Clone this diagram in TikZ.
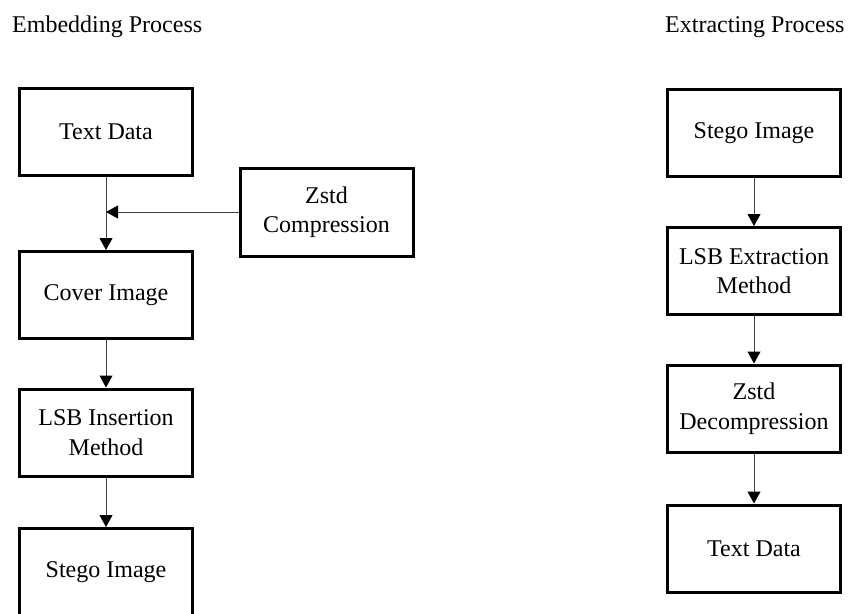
\documentclass[tikz,border=0pt]{standalone}
\usepackage{fontspec}
\setmainfont{Liberation Serif}
\usetikzlibrary{arrows.meta}
\begin{document}
\begin{tikzpicture}[x=1pt,y=-1pt,
  every node/.style={font=\fontsize{24}{29.5}\selectfont},
  procbox/.style={draw=black, line width=3pt, rectangle, minimum width=173pt, minimum height=87pt, inner sep=0pt, align=center},
  title/.style={anchor=base west, inner sep=0pt},
  arr/.style={draw=black!75, line width=1pt, -{Triangle[length=12pt,width=13pt,color=black]}}]
\useasboundingbox (0,0) rectangle (848,613);
\fill[white] (0,0) rectangle (848,613);
% titles
\node[title] (t1) at (12,32) {Embedding Process};
\node[title] (t2) at (665,32) {Extracting Process};
% left column
\node[procbox] (td) at (106,132) {Text Data};
\node[procbox, minimum height=88pt] (comp) at (326.5,212) {Zstd\\Compression};
\node[procbox] (cov) at (106,295) {Cover Image};
\node[procbox] (lsbi) at (106,432.5) {LSB Insertion\\Method};
\node[procbox] (sl) at (106,572) {Stego Image};
\coordinate (j) at (td.south |- comp.west);
\draw[arr] (td.south) -- (cov.north);
\draw[arr] (comp.west) -- (j);
\draw[arr] (cov.south) -- (lsbi.north);
\draw[arr] (lsbi.south) -- (sl.north);
% right column
\node[procbox] (sr) at (754,133) {Stego Image};
\node[procbox] (lsbe) at (754,271) {LSB Extraction\\Method};
\node[procbox] (zd) at (754,408.5) {Zstd\\Decompression};
\node[procbox] (tr) at (754,548.5) {Text Data};
\draw[arr] (sr.south) -- (lsbe.north);
\draw[arr] (lsbe.south) -- (zd.north);
\draw[arr] (zd.south) -- (tr.north);
\end{tikzpicture}
\end{document}
